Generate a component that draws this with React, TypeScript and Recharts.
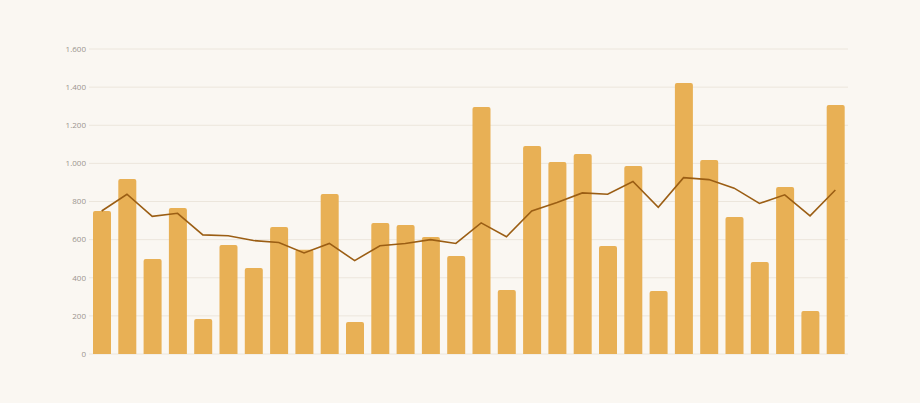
import { ComposedChart, Bar, Line, XAxis, YAxis, CartesianGrid } from 'recharts';

// daily values (bars) and the smoothed trend (line)
const categories = Array.from({ length: 30 }, (_, i) => `T${i + 1}`);
const barValues = [
  750, 918, 498, 766, 184, 572, 451, 666, 547, 839,
  168, 687, 677, 614, 514, 1296, 336, 1091, 1007, 1049,
  567, 986, 330, 1422, 1018, 719, 483, 876, 226, 1306,
];
const trendValues = [
  750, 838, 722, 738, 625, 620, 595, 585, 530, 580,
  490, 568, 580, 600, 580, 688, 615, 750, 795, 845,
  838, 905, 770, 925, 915, 870, 790, 835, 725, 860,
];
const yTicks = [0, 200, 400, 600, 800, 1000, 1200, 1400, 1600];

const data = categories.map((name, i) => ({
  name,
  value: barValues[i],
  trend: trendValues[i],
}));

const formatTick = (v: number) => v.toLocaleString('de-DE');

export default function App() {
  return (
    <div
      style={{
        position: 'fixed',
        left: 0,
        top: 0,
        width: 920,
        height: 403,
        background: '#faf7f2',
        fontFamily: '"Open Sans", sans-serif',
      }}
    >
      <ComposedChart
        width={920}
        height={403}
        data={data}
        margin={{ top: 49, right: 72, bottom: 49, left: 0 }}
      >
        <CartesianGrid vertical={false} stroke="#ece6dc" strokeWidth={1} />
        <XAxis dataKey="name" hide />
        <YAxis
          width={89}
          domain={[0, 1600]}
          ticks={yTicks}
          tickFormatter={formatTick}
          axisLine={false}
          tickLine={false}
          tickSize={0}
          tickMargin={3}
          tick={{ fontSize: 8, fill: '#9a958e' }}
        />
        <Bar
          dataKey="value"
          fill="#e8b055"
          barSize={18}
          radius={[2, 2, 0, 0]}
          isAnimationActive={false}
        />
        <Line
          dataKey="trend"
          type="linear"
          stroke="#9b5e14"
          strokeWidth={1.6}
          dot={false}
          isAnimationActive={false}
        />
      </ComposedChart>
    </div>
  );
}
